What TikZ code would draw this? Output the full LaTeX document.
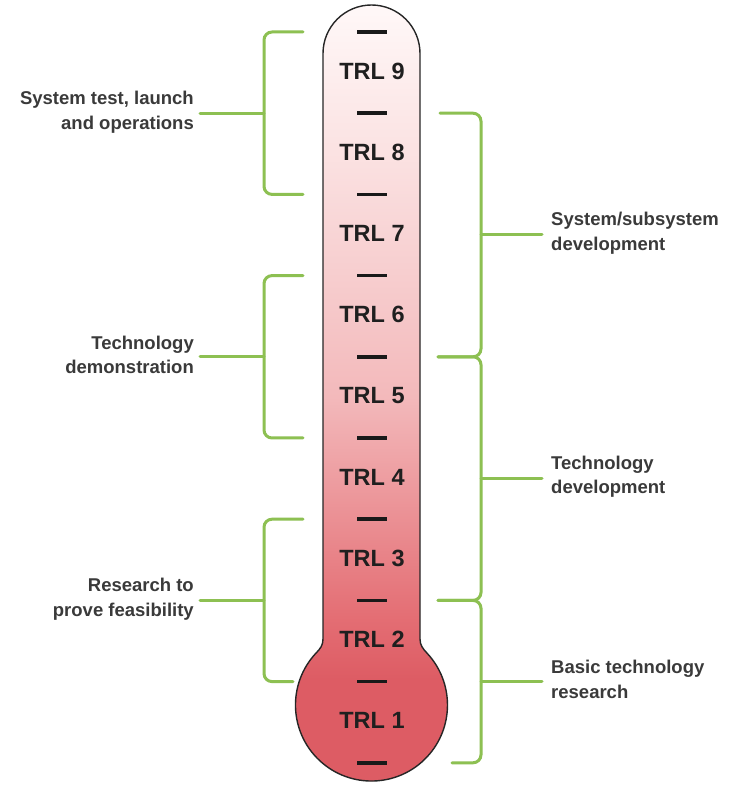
\documentclass[tikz,border=0pt]{standalone}
\usepackage{fontspec}
\setmainfont{Liberation Sans}
\definecolor{brkc}{RGB}{141,192,82}
\definecolor{txtc}{RGB}{58,58,58}
\definecolor{cA}{RGB}{221,92,100}
\definecolor{cB}{RGB}{228,110,116}
\definecolor{cC}{RGB}{243,185,187}
\definecolor{cD}{RGB}{251,227,227}
\definecolor{cE}{RGB}{255,248,248}
\pgfdeclareverticalshading{thermoshade}{100bp}{color(0bp)=(cA); color(25bp)=(cA); color(32bp)=(cA); color(36bp)=(cB); color(50bp)=(cC); color(66bp)=(cD); color(75bp)=(cE); color(100bp)=(cE)}
\begin{document}
\begin{tikzpicture}[x=1pt,y=1pt,
  brk/.style={draw=brkc, line width=3pt, rounded corners=8pt, line cap=round},
  tickmark/.style={fill=black!90, minimum width=30pt, minimum height=3.6pt, inner sep=0pt},
  trl/.style={font=\fontsize{23.5}{26}\selectfont\bfseries, text=black!88, inner sep=0pt},
  lbl/.style={font=\fontsize{18.5}{24.5}\selectfont\bfseries, text=txtc, inner sep=0pt}]
\path[use as bounding box, fill=white] (0,0) rectangle (734,785);
% thermometer body
\path[shading=thermoshade, draw=black!85, line width=1.4pt]
  (420,731.5) arc[start angle=0, end angle=180, radius=48.5]
  -- (323,146) to[out=-90,in=45] (315.9,131.8)
  arc[start angle=137, end angle=403, radius=76]
  to[out=133,in=-90] (420,146) -- cycle;
% ticks
\foreach \i in {0,...,9} {
  \node[tickmark] (t\i) at (372, {753-81.2*\i}) {};
}
% labels
\node[trl] (trl9) at (372,714) {TRL 9};
\node[trl] (trl8) at (372,633) {TRL 8};
\node[trl] (trl7) at (372,552) {TRL 7};
\node[trl] (trl6) at (372,470.5) {TRL 6};
\node[trl] (trl5) at (372,389.5) {TRL 5};
\node[trl] (trl4) at (372,308) {TRL 4};
\node[trl] (trl3) at (372,227) {TRL 3};
\node[trl] (trl2) at (372,146) {TRL 2};
\node[trl] (trl1) at (372,64.5) {TRL 1};
% left labels
\node[lbl, anchor=east, align=right] (lsys) at (194,673) {System test, launch\\and operations};
\node[lbl, anchor=east, align=right] (ldemo) at (194,430) {Technology\\demonstration};
\node[lbl, anchor=east, align=right] (lres) at (194,186) {Research to\\prove feasibility};
% right labels
\node[lbl, anchor=west, align=left] (rsys) at (551,552) {System/subsystem\\development};
\node[lbl, anchor=west, align=left] (rtech) at (551,308.5) {Technology\\development};
\node[lbl, anchor=west, align=left] (rbasic) at (551,105.5) {Basic technology\\research};
% left brackets
\draw[brk] (303,753) -- (264,753) -- (264,590.6) -- (303,590.6);
\draw[brk] ([xshift=6pt]lsys.east |- 0,671.8) -- (264,671.8);
\draw[brk] (303,509.4) -- (264,509.4) -- (264,347) -- (303,347);
\draw[brk] ([xshift=6pt]ldemo.east |- 0,428.2) -- (264,428.2);
\draw[brk] (303,265.8) -- (264,265.8) -- (264,103.4) -- (293,103.4);
\draw[brk] ([xshift=6pt]lres.east |- 0,184.6) -- (264,184.6);
% right brackets
\draw[brk] (440,671.8) -- (481,671.8) -- (481,428.2) -- (438,428.2);
\draw[brk] (438,428.2) -- (481,428.2) -- (481,184.6) -- (438,184.6);
\draw[brk] (438,184.6) -- (481,184.6) -- (481,22.2) -- (452,22.2);
\draw[brk] (481,550) -- ([xshift=-9pt]rsys.west |- 0,550);
\draw[brk] (481,306.4) -- ([xshift=-9pt]rtech.west |- 0,306.4);
\draw[brk] (481,103.4) -- ([xshift=-9pt]rbasic.west |- 0,103.4);
\end{tikzpicture}
\end{document}
